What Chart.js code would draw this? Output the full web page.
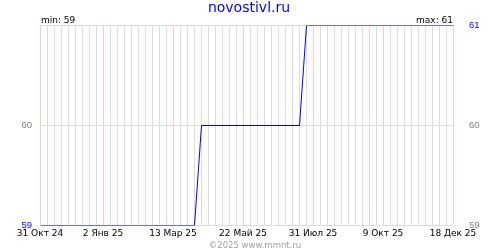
<!DOCTYPE html>
<html>
<head>
<meta charset="utf-8">
<script src="https://cdn.jsdelivr.net/npm/chart.js@4/dist/chart.umd.min.js"></script>
<style>
  html, body { margin: 0; padding: 0; background: #fff; }
  #wrap { width: 500px; height: 250px; }
</style>
</head>
<body>
<div id="wrap"><canvas id="price-chart" width="500" height="250"></canvas></div>
<script>
// ===== data =====
const siteName   = 'novostivl.ru';
const copyright  = '©2025 www.mmnt.ru';
const startDate  = '2024-10-31';
const endDate    = '2025-12-18';

const pointDates  = ['2024-10-31', '2025-04-03', '2025-04-10', '2025-07-17', '2025-07-24', '2025-12-18'];
const pointValues = [59, 59, 60, 60, 61, 61];

const tickDates  = ['2024-10-31', '2025-01-02', '2025-03-13', '2025-05-22', '2025-07-31', '2025-10-09', '2025-12-18'];
const tickLabels = ['31 Окт 24', '2 Янв 25', '13 Мар 25', '22 Май 25', '31 Июл 25', '9 Окт 25', '18 Дек 25'];
const yTicks     = [59, 60, 61];

// ===== helpers =====
function dayIndex(d) {
  return Math.round((Date.parse(d) - Date.parse(startDate)) / 86400000);
}

const minValue = Math.min.apply(null, pointValues);
const maxValue = Math.max.apply(null, pointValues);
const labelDays = tickDates.map(dayIndex);
const lastDay = dayIndex(endDate);

const BLUE = '#0000ff';
const GRAY_TXT = '#808080';

const textPlugin = {
  id: 'texts',
  beforeDatasetsDraw: function(chart) {
    chart.ctx.save();
    chart.ctx.translate(0.5, 0.5);
  },
  afterDatasetsDraw: function(chart) {
    chart.ctx.restore();
  },
  afterDraw: function(chart) {
    const ctx = chart.ctx;
    const a = chart.chartArea;
    ctx.save();
    ctx.textBaseline = 'alphabetic';

    ctx.font = '14px "DejaVu Sans"';
    ctx.fillStyle = BLUE;
    ctx.textAlign = 'center';
    ctx.fillText(siteName, 249, 12);

    ctx.font = '9px "DejaVu Sans"';
    ctx.fillStyle = '#000';
    ctx.textAlign = 'left';
    ctx.fillText('min: ' + minValue, a.left + 1, 23);
    ctx.textAlign = 'right';
    ctx.fillText('max: ' + maxValue, a.right, 23);

    ctx.font = '8.5px "DejaVu Sans"';
    ctx.fillStyle = '#a0a0a0';
    ctx.textAlign = 'center';
    ctx.fillText(copyright, 255, 248);
    ctx.restore();
  }
};

const ctx = document.getElementById('price-chart').getContext('2d');
const chart = new Chart(ctx, {
  type: 'line',
  data: {
    datasets: [{
      data: pointDates.map(function(d, i) { return { x: dayIndex(d), y: pointValues[i] }; }),
      borderColor: BLUE,
      borderWidth: 1,
      pointRadius: 0,
      tension: 0,
      fill: false,
      yAxisID: 'y'
    }]
  },
  options: {
    responsive: false,
    animation: false,
    layout: { padding: { top: 25, left: 0, right: 0, bottom: 0 } },
    plugins: {
      legend: { display: false },
      tooltip: { enabled: false },
      title: { display: false }
    },
    scales: {
      x: {
        type: 'linear',
        min: 0,
        max: lastDay,
        afterFit: function(s) { s.height = 25; },
        border: { display: false },
        grid: {
          drawTicks: false,
          color: function(c) {
            return labelDays.indexOf(c.tick.value) >= 0 ? '#ffc8c8' : '#dddddd';
          }
        },
        ticks: {
          stepSize: 7,
          autoSkip: false,
          maxRotation: 0,
          padding: 3,
          color: '#000',
          font: { family: 'DejaVu Sans', size: 9 },
          callback: function(v) {
            const i = labelDays.indexOf(v);
            return i >= 0 ? tickLabels[i] : '';
          }
        }
      },
      y: {
        position: 'left',
        min: yTicks[0],
        max: yTicks[yTicks.length - 1],
        afterFit: function(s) { s.width = 40; },
        afterBuildTicks: function(s) { s.ticks = yTicks.map(function(v) { return { value: v }; }); },
        border: { display: false },
        grid: { drawTicks: false, color: '#dddddd' },
        ticks: {
          padding: 8,
          font: { family: 'Liberation Sans', size: 9.5 },
          color: function(c) { return c.tick.value === minValue ? BLUE : GRAY_TXT; },
          callback: function(v) { return v === maxValue ? '' : String(v); }
        }
      },
      y2: {
        position: 'right',
        min: yTicks[0],
        max: yTicks[yTicks.length - 1],
        afterFit: function(s) { s.width = 47; },
        afterBuildTicks: function(s) { s.ticks = yTicks.map(function(v) { return { value: v }; }); },
        border: { display: false },
        grid: { display: false },
        ticks: {
          padding: 8,
          font: { family: 'Liberation Sans', size: 9.5 },
          color: function(c) { return c.tick.value === maxValue ? BLUE : GRAY_TXT; },
          callback: function(v) { return String(v); }
        }
      }
    }
  },
  plugins: [textPlugin]
});
</script>
</body>
</html>
